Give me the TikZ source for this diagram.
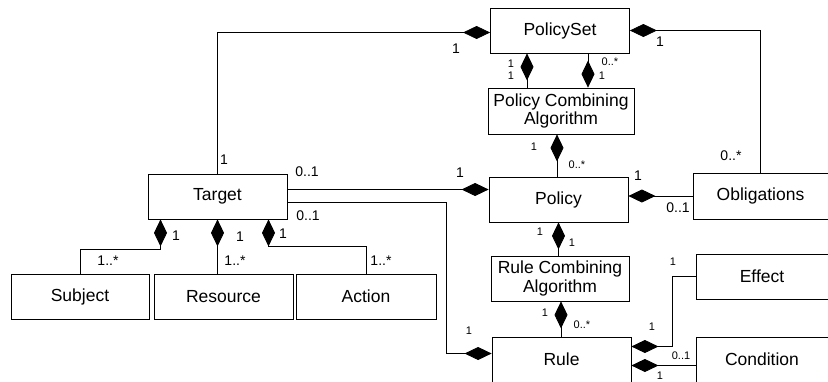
\documentclass[tikz,border=0pt]{standalone}
\usepackage{fontspec}
\setmainfont{Liberation Sans}
\usetikzlibrary{arrows.meta}
\tikzset{
  box/.style={draw, fill=white, line width=0.8pt, inner sep=0pt, align=center,
    minimum width=139pt, minimum height=45pt, font=\fontsize{17.5}{18.5}\selectfont},
  comp/.style={line width=0.8pt, arrows={Diamond[length=27pt,width=13pt]-}},
  mult/.style={inner sep=0pt, font=\fontsize{14}{14}\selectfont},
  smallmult/.style={inner sep=0pt, font=\fontsize{11}{11}\selectfont}
}
\begin{document}
\begin{tikzpicture}[x=1pt, y=-1pt]
            \useasboundingbox (0,0) rectangle (828,381);
            \clip (0,0) rectangle (828,381);

            \node[box] (policyset) at (560,30.5) {PolicySet};
            \node[box, minimum width=146pt, minimum height=46pt] (pca) at (561,111) {Policy Combining\\Algorithm};
            \node[box] (policy) at (558.5,199.5) {Policy};
            \node[box] (target) at (217.5,196.5) {Target};
            \node[box, minimum width=135pt, minimum height=46pt] (obligations) at (760.5,196) {Obligations};
            \node[box, minimum width=138pt] (rca) at (560,278.5) {Rule Combining\\Algorithm};
            \node[box] (rule) at (561.5,359.5) {Rule};
            \node[box, minimum width=132pt] (effect) at (762,276.5) {Effect};
            \node[box, minimum width=132pt] (condition) at (762,359.5) {Condition};
            \node[box, minimum width=138pt] (subject) at (80,296.5) {Subject};
            \node[box] (resource) at (223.5,296.5) {Resource};
            \node[box, minimum width=140pt] (action) at (366,296.5) {Action};

            \draw[comp] ([yshift=-2pt]policyset.west) -| (target.north);
            \draw[comp] (policyset.east) -| (obligations.north);
            \draw[comp] ([xshift=-33pt]policyset.south) -- ([xshift=-33pt]policyset.south |- pca.north);
            \draw[comp] ([xshift=27pt]pca.north) -- ([xshift=27pt]pca.north |- policyset.south);
            \draw[comp] ([xshift=-4pt]pca.south) -- ([xshift=-4pt]pca.south |- policy.north);
            \draw[comp] ([yshift=10pt]policy.west) -- ([yshift=10pt]policy.west -| target.east);
            \draw[comp] ([yshift=6pt]rule.west) -- ++(-45,0) |- ([yshift=-6pt]target.east);
            \draw[comp] (policy.east |- obligations.west) -- (obligations.west);
            \draw[comp] (policy.south) -- (policy.south |- rca.north);
            \draw[comp] ([xshift=1pt]rca.south) -- ([xshift=1pt]rca.south |- rule.north);
            \draw[comp] ([yshift=13pt]rule.east) -- ++(41,0) |- (effect.west);
            \draw[comp] ([yshift=-6pt]rule.east) -- ([yshift=-6pt]rule.east -| condition.west);
            \draw[comp] ([xshift=-57pt]target.south) -- ++(0,30) -| (subject.north);
            \draw[comp] (target.south) -- (target.south |- resource.north);
            \draw[comp] ([xshift=51pt]target.south) -- ++(0,27) -| (action.north);

            \node[mult] (mTargetTop) at (224,160) {1};
            \node[mult] (mTargetUp) at (307,171.5) {0..1};
            \node[mult] (mTargetLow) at (308,216) {0..1};
            \node[mult] (mPolicyLeft) at (460,173) {1};
            \node[mult] (mSetLeft) at (456,49) {1};
            \node[mult] (mSetRight) at (660,42) {1};
            \node[smallmult] (mSetA) at (511,64) {1};
            \node[smallmult] (mPcaA) at (511,76) {1};
            \node[smallmult] (mSetB) at (610,62) {0..*};
            \node[smallmult] (mPcaB) at (602,76) {1};
            \node[smallmult] (mPcaLow) at (534,147) {1};
            \node[smallmult] (mPolicyTop) at (577,165) {0..*};
            \node[mult] (mPolicyRight) at (638,176) {1};
            \node[mult] (mOblTop) at (731,156) {0..*};
            \node[mult] (mOblLeft) at (678,208) {0..1};
            \node[mult] (mSubjA) at (176,236) {1};
            \node[mult] (mResA) at (240,237) {1};
            \node[mult] (mActA) at (283,234) {1};
            \node[mult] (mSubjB) at (108,261) {1..*};
            \node[mult] (mResB) at (235,261) {1..*};
            \node[mult] (mActB) at (381,261) {1..*};
            \node[smallmult] (mPolicyLow) at (540,232) {1};
            \node[smallmult] (mRcaTop) at (572,243) {1};
            \node[smallmult] (mRcaLow) at (545,313) {1};
            \node[smallmult] (mRuleTop) at (582,325) {0..*};
            \node[smallmult] (mRuleLeft) at (469,331) {1};
            \node[smallmult] (mEffect) at (673,262) {1};
            \node[smallmult] (mRuleEff) at (652,327) {1};
            \node[smallmult] (mCond) at (681,356) {0..1};
            \node[smallmult] (mRuleCond) at (660,376) {1};
        \end{tikzpicture}
\end{document}
